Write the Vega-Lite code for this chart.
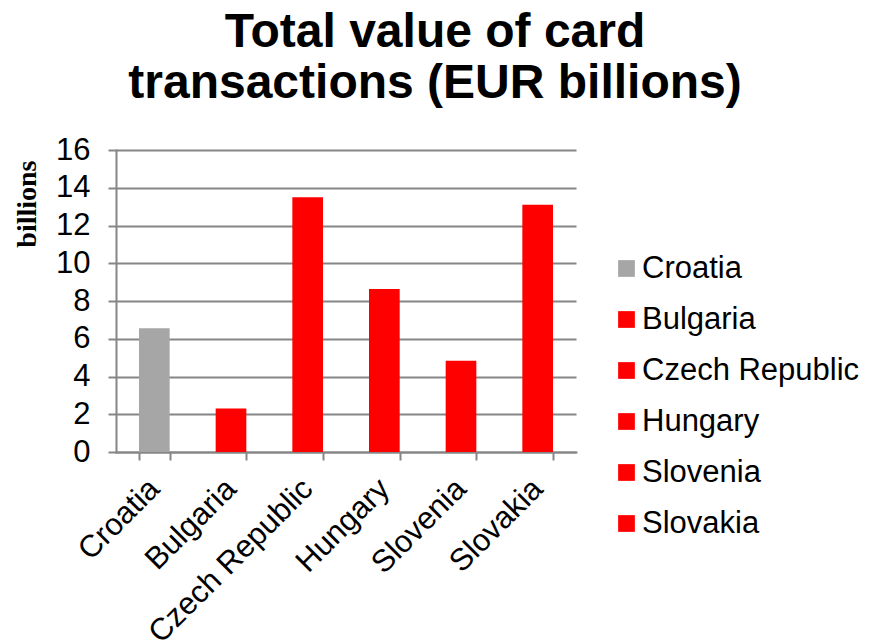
{
  "$schema": "https://vega.github.io/schema/vega-lite/v6.json",
  "autosize": {"type": "none"},
  "padding": {"left": 116, "top": 150, "right": 294, "bottom": 192},
  "width": 460,
  "height": 302,
  "background": "white",
  "title": {
    "text": ["Total value of card", "transactions (EUR billions)"],
    "font": "Liberation Sans",
    "fontSize": 48,
    "fontWeight": "bold",
    "color": "black",
    "anchor": "middle",
    "dx": 89,
    "lineHeight": 51,
    "offset": 26
  },
  "data": {
    "values": [
      {"country": "Croatia", "value": 6.55},
      {"country": "Bulgaria", "value": 2.3},
      {"country": "Czech Republic", "value": 13.5},
      {"country": "Hungary", "value": 8.64},
      {"country": "Slovenia", "value": 4.83},
      {"country": "Slovakia", "value": 13.1}
    ]
  },
  "mark": {"type": "bar"},
  "encoding": {
    "x": {
      "field": "country",
      "type": "nominal",
      "sort": null,
      "scale": {"paddingInner": 0.6, "paddingOuter": 0.3},
      "axis": {
        "title": null,
        "labelAngle": -45,
        "labelAlign": "right",
        "labelBaseline": "middle",
        "labelFont": "Liberation Sans",
        "labelFontSize": 31,
        "labelColor": "black",
        "labelPadding": 24,
        "labelOverlap": false,
        "labelLimit": 400,
        "tickBand": "extent",
        "tickSize": 8,
        "tickColor": "#868686",
        "tickWidth": 2,
        "domainColor": "#868686",
        "domainWidth": 2,
        "grid": false
      }
    },
    "y": {
      "field": "value",
      "type": "quantitative",
      "scale": {"domain": [0, 16], "nice": false},
      "axis": {
        "title": "billions",
        "titleFont": "Liberation Serif",
        "titleFontSize": 28,
        "titleFontWeight": "bold",
        "titleColor": "black",
        "titleAnchor": "end",
        "titleY": 10,
        "titleAlign": "right",
        "titlePadding": 14,
        "values": [0, 2, 4, 6, 8, 10, 12, 14, 16],
        "labelFont": "Liberation Sans",
        "labelFontSize": 31,
        "labelColor": "black",
        "labelPadding": 18,
        "tickSize": 8,
        "tickColor": "#868686",
        "tickWidth": 2,
        "domainColor": "#868686",
        "domainWidth": 2,
        "grid": true,
        "gridColor": "#868686",
        "gridWidth": 2
      }
    },
    "color": {
      "field": "country",
      "type": "nominal",
      "sort": null,
      "scale": {
        "domain": ["Croatia", "Bulgaria", "Czech Republic", "Hungary", "Slovenia", "Slovakia"],
        "range": ["#A6A6A6", "#FF0000", "#FF0000", "#FF0000", "#FF0000", "#FF0000"]
      },
      "legend": {
        "title": null,
        "orient": "none",
        "legendX": 495,
        "legendY": 103,
        "padding": 0,
        "symbolType": "square",
        "symbolSize": 280,
        "symbolStrokeWidth": 0,
        "symbolOpacity": 1,
        "labelFont": "Liberation Sans",
        "labelFontSize": 31,
        "labelColor": "black",
        "labelOffset": 0,
        "labelLimit": 400,
        "rowPadding": 19
      }
    }
  },
  "config": {
    "view": {"stroke": null},
    "axis": {"domainCap": "square"}
  }
}
